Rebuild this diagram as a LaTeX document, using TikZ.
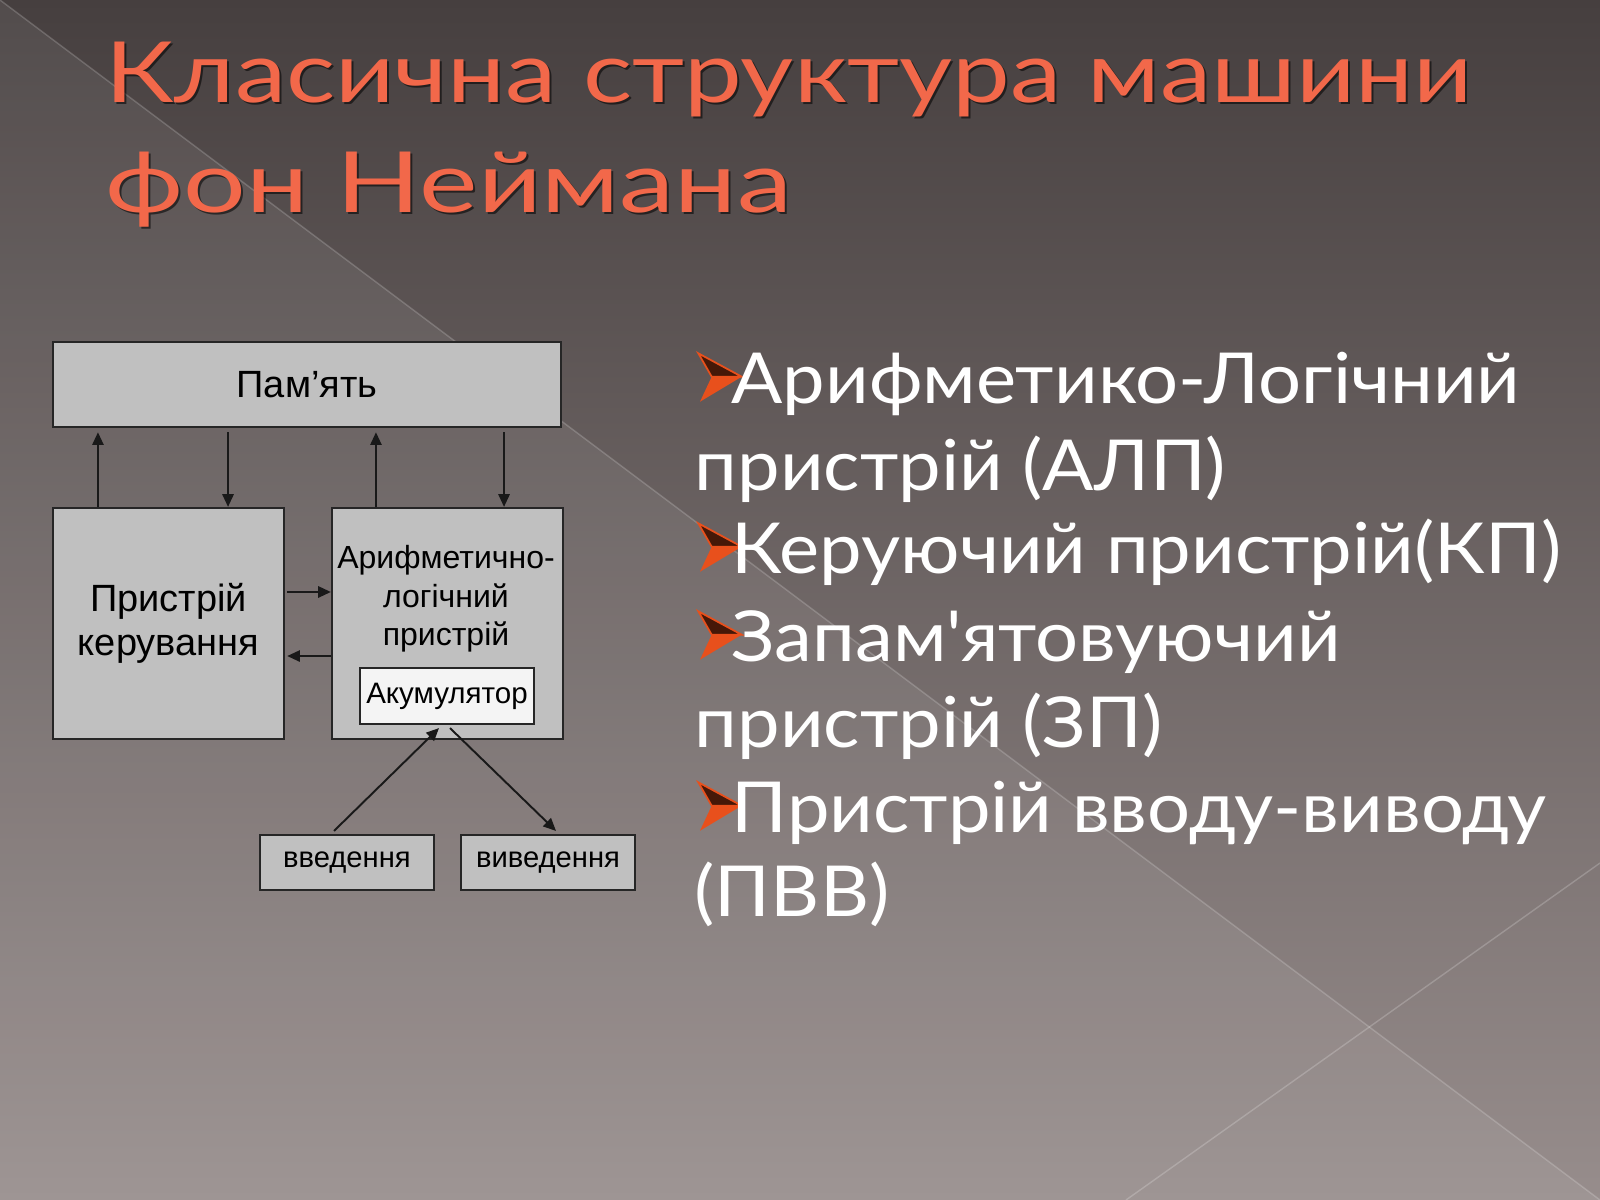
\documentclass[tikz,border=0pt]{standalone}
\usepackage{fontspec}
\setmainfont{Liberation Sans}
\newfontfamily\slidefont[FakeStretch=1.08,Ligatures=TeXOff]{Lato}
\newfontfamily\titlefont[FakeStretch=1.22]{Lato}
\newfontfamily\titlewide[FakeStretch=1.31]{Lato}
\usetikzlibrary{arrows.meta,positioning}

\definecolor{bgtop}{HTML}{463F3F}
\definecolor{bgbot}{HTML}{978D8C}
\definecolor{boxgray}{HTML}{C0C0C0}
\definecolor{accfill}{HTML}{F4F4F4}
\definecolor{titlecol}{HTML}{F2684A}
\definecolor{bulletcol}{HTML}{E8501C}

\begin{document}
\begin{tikzpicture}[x=0.01cm, y=0.01cm,
  box/.style={draw=black!85, line width=0.6pt, fill=boxgray, inner sep=0pt, align=center},
  link/.style={-{Triangle[length=3.6pt,width=3.2pt]}, line width=0.55pt, black!90},
  headline/.style={anchor=base west, inner sep=0pt, font=\fontsize{24}{28}\selectfont},
  slide/.style={anchor=base west, inner sep=0pt, text=white, font=\slidefont\fontsize{20}{24}\selectfont}]

\useasboundingbox (0,0) rectangle (1600,-1200);

% background
\shade[top color=bgtop, bottom color=bgbot] (0,0) rectangle (1600,-1200);
\fill[white, opacity=0.07] (0,0) -- (1600,-1200) -- (0,-1200) -- cycle;
\draw[white, opacity=0.18, line width=0.4pt] (0,0) -- (1600,-1200);
\draw[white, opacity=0.2, line width=0.4pt] (1126,-1200) -- (1600,-863);

% title
\node[headline, text=black, opacity=0.55] at (107,-104) {\titlefont Класична структура машини};
\node[headline, text=black, opacity=0.55] at (107,-214) {\titlewide фон Неймана};
\node[headline, text=titlecol] (title1) at (105,-102) {\titlefont Класична структура машини};
\node[headline, text=titlecol] (title2) at (105,-212) {\titlewide фон Неймана};

% diagram
\node[box, minimum width=5.08cm, minimum height=0.85cm, font=\fontsize{10.8}{12}\selectfont] (mem) at (307,-384.5) {Пам’ять};
\node[box, minimum width=2.31cm, minimum height=2.31cm, font=\fontsize{10.8}{12.4}\selectfont] (cu) at (168.5,-623.5) {Пристрій\\керування};
\node[box, minimum width=2.31cm, minimum height=2.31cm] (alu) at (447.5,-623.5) {};
\node[anchor=north, inner sep=0pt, align=center, font=\fontsize{9.1}{10.9}\selectfont] (alutext) at (446,-545) {Арифметично-\\логічний\\пристрій};
\node[box, fill=accfill, minimum width=1.74cm, minimum height=0.56cm, font=\fontsize{8.4}{10}\selectfont] (acc) at (447,-696) {\raisebox{-0.6pt}{Акумулятор}};
\node[box, minimum width=1.74cm, minimum height=0.55cm, font=\fontsize{8.3}{10}\selectfont] (inp) at (347,-862.5) {введення};
\node[box, minimum width=1.74cm, minimum height=0.55cm, font=\fontsize{8.3}{10}\selectfont] (outp) at (548,-862.5) {виведення};

\coordinate (cuup) at ([xshift=-0.705cm]cu.north);
\coordinate (cudown) at ([xshift=0.595cm]cu.north);
\coordinate (aluup) at ([xshift=-0.715cm]alu.north);
\coordinate (aludown) at ([xshift=0.565cm]alu.north);
\draw[link, shorten >=1.2pt] (cuup) -- (cuup |- mem.south);
\draw[link, shorten <=1.2pt] (cudown |- mem.south) -- (cudown);
\draw[link, shorten >=1.2pt] (aluup) -- (aluup |- mem.south);
\draw[link, shorten <=1.2pt] (aludown |- mem.south) -- (aludown);

\coordinate (curight) at ([yshift=0.315cm]cu.east);
\coordinate (cuback) at ([yshift=-0.325cm]cu.east);
\draw[link, shorten <=0.6pt] (curight) -- (curight -| alu.west);
\draw[link, shorten >=0.6pt] (cuback -| alu.west) -- (cuback);

\draw[link] ([xshift=-0.13cm,yshift=0.03cm]inp.north) -- ([xshift=-0.08cm,yshift=-0.03cm]acc.south);
\draw[link] ([xshift=0.03cm,yshift=-0.03cm]acc.south) -- ([xshift=0.08cm,yshift=0.03cm]outp.north);

% bullets
\foreach \b in {403,573,661,832} {
  \begin{scope}[shift={(697,-\b)}]
    \fill[bulletcol] (14.7,26.3) -- (44.7,26.3) -- (3,1.3) -- cycle;
    \filldraw[draw=bulletcol, fill=bulletcol!30!black, line width=0.5pt] (1.3,49.7) -- (44.7,26.3) -- (14.7,26.3) -- cycle;
  \end{scope}
}

\node[slide] (line1) at (731,-403) {Арифметико-Логічний};
\node[slide] (line2) at (694,-490) {пристрій (АЛП)};
\node[slide] (line3) at (731,-573) {Керуючий пристрій(КП)};
\node[slide] (line4) at (731,-661) {Запам'ятовуючий};
\node[slide] (line5) at (694,-747) {пристрій (ЗП)};
\node[slide] (line6) at (731,-832) {Пристрій вводу-виводу};
\node[slide] (line7) at (694,-916) {(ПВВ)};

\end{tikzpicture}
\end{document}
